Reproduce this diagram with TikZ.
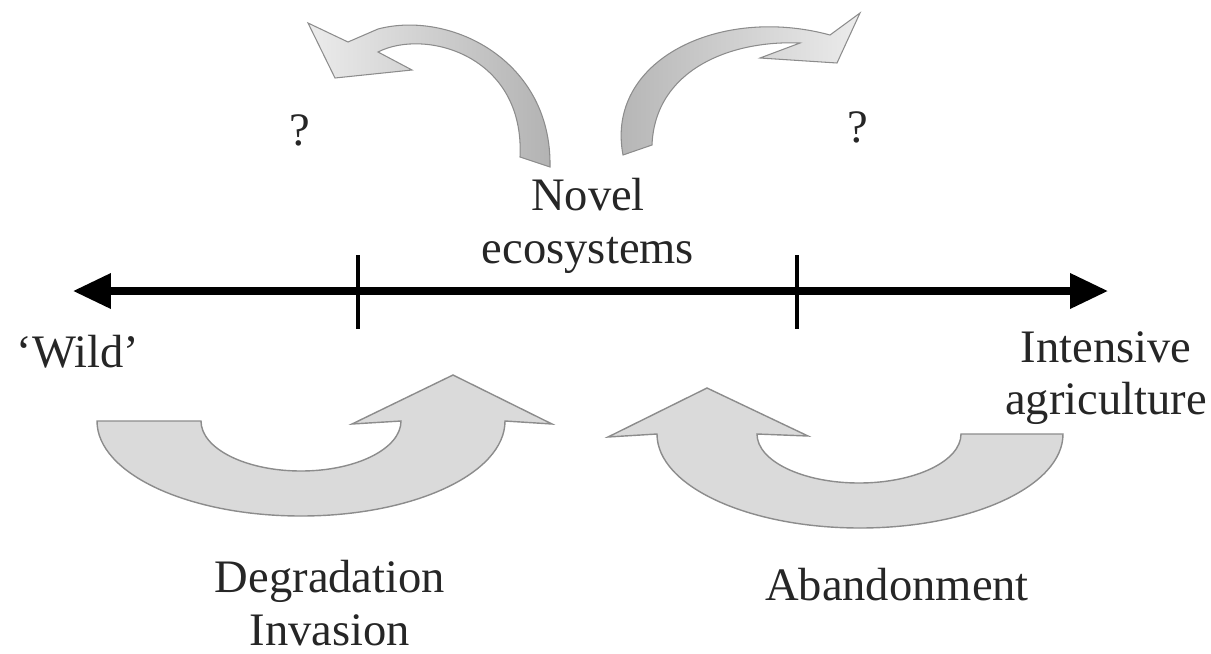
\documentclass[tikz,border=0pt]{standalone}
\usepackage{fontspec}
\setmainfont{Liberation Serif}
\usetikzlibrary{arrows.meta, positioning}
\definecolor{arrowfill}{HTML}{DADADA}
\definecolor{arrowline}{HTML}{8C8C8C}
\definecolor{textgray}{HTML}{262626}
\tikzset{
  lbl/.style={
    font=\fontsize{26.5}{30}\selectfont, text=textgray,
    align=center, inner sep=0pt
  },
  axisline/.style={
    line width=4pt, black,
    {Triangle[length=0.76cm,width=0.68cm]}-{Triangle[length=0.76cm,width=0.68cm]}
  },
  tickmark/.style={line width=2pt, black},
  flow/.style={draw=arrowline, fill=arrowfill, line width=0.8pt},
  trendl/.style={draw=arrowline, line width=0.6pt,
    left color=gray!15, right color=gray!60},
  trendr/.style={draw=arrowline, line width=0.6pt,
    left color=gray!60, right color=gray!15}
}
\begin{document}
\begin{tikzpicture}[x=0.02cm, y=-0.02cm]
    \useasboundingbox (0,0) rectangle (1211,653);

    % Gradient axis
    \coordinate (wildend) at (73,291);
    \coordinate (agriend) at (1108,291);
    \draw[axisline] (wildend) -- (agriend);
    \foreach \t/\x in {tickl/358, tickr/797}{%
      \coordinate (\t) at (\x,255);
      \draw[tickmark] (\t) -- ++(0,74);}

    % Labels
    \node[lbl] (novel) at (588,226) {Novel\\ecosystems};
    \node[lbl] (wild) at (78,352) {`Wild'};
    \node[lbl] (intensive) at (1106,378) {Intensive\\agriculture};
    \node[lbl] (degr) at (330,603) {Degradation\\Invasion};
    \node[lbl] (aband) at (897,585) {Abandonment};
    \node[lbl] (qleft) at (300,130) {?};
    \node[lbl] (qright) at (858,127) {?};

    % Top arrows (unknown paths)
    \path[trendl] (520,157) -- (550,167)
      .. controls (552,60) and (450,10) .. (378,29)
      -- (348,42) -- (308,23) -- (335,78) -- (412,70) -- (378,52)
      .. controls (425,28) and (525,55) .. (520,157) -- cycle;
    \path[trendr] (652,145) -- (623,155)
      .. controls (605,60) and (720,5) .. (830,35)
      -- (860,13) -- (837,63) -- (760,58) -- (800,43)
      .. controls (730,40) and (655,70) .. (652,145) -- cycle;

    % Bottom arrows
    \path[flow] (97,421) -- (201,421)
      arc[start angle=180, end angle=0, x radius=100, y radius=50]
      -- (352,424) -- (453,375) -- (552,424) -- (505,421)
      arc[start angle=0, end angle=180, x radius=204, y radius=95]
      -- cycle;
    \path[flow] (1062,434) -- (961,434)
      arc[start angle=0, end angle=180, x radius=102, y radius=49]
      -- (808,436) -- (707,388) -- (608,437) -- (657,434)
      arc[start angle=180, end angle=0, x radius=203, y radius=94]
      -- cycle;
  \end{tikzpicture}
\end{document}
